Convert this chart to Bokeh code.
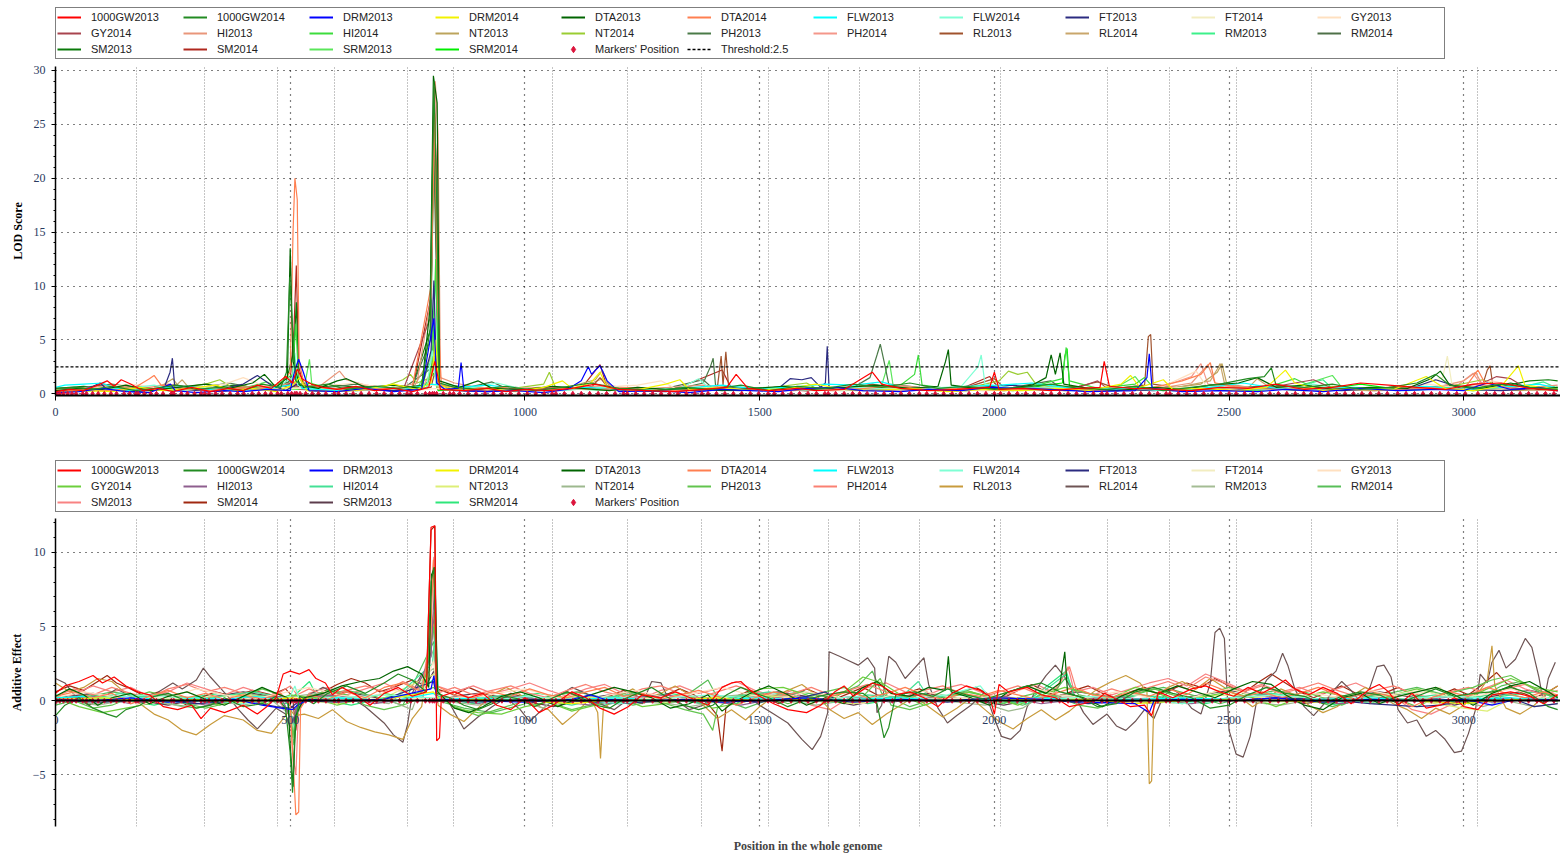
import numpy as np
from bokeh.plotting import figure
from bokeh.models import (Legend, LegendItem, Range1d, SingleIntervalTicker,
                          FixedTicker, Grid, LinearAxis)
from bokeh.layouts import column
from bokeh.embed import file_html
from bokeh.resources import INLINE

# ---------------- shared data ----------------
NAMES = ["1000GW2013", "1000GW2014", "DRM2013", "DRM2014", "DTA2013", "DTA2014",
         "FLW2013", "FLW2014", "FT2013", "FT2014", "GY2013", "GY2014", "HI2013",
         "HI2014", "NT2013", "NT2014", "PH2013", "PH2014", "RL2013", "RL2014",
         "RM2013", "RM2014", "SM2013", "SM2014", "SRM2013", "SRM2014"]

THRESHOLD = 2.5
CHROM_BOUNDS = [172, 317, 473, 594, 749, 848, 1058, 1218, 1377, 1518, 1646, 1713,
                1840, 2013, 2240, 2374, 2515, 2675, 2859, 3030]
MARKERS = [2, 9, 17, 26, 35, 44, 58, 66, 79, 91, 104, 118, 130, 146, 158, 171, 176, 189, 203,
           215, 229, 247, 252, 268, 281, 296, 310, 318, 327, 341, 355, 372, 388, 401, 419, 433,
           447, 459, 473, 481, 495, 503, 510, 514, 521, 533, 547, 560, 576, 594, 603, 619, 634,
           651, 668, 684, 700, 716, 733, 749, 757, 771, 788, 797, 803, 807, 812, 826, 840, 848,
           861, 879, 896, 915, 933, 951, 969, 987, 1005, 1023, 1041, 1058, 1066, 1084, 1102,
           1120, 1138, 1156, 1174, 1192, 1210, 1218, 1236, 1254, 1272, 1290, 1308, 1326, 1344,
           1362, 1377, 1390, 1408, 1426, 1444, 1462, 1480, 1498, 1518, 1531, 1549, 1567, 1585,
           1603, 1621, 1639, 1646, 1662, 1680, 1698, 1713, 1729, 1747, 1765, 1783, 1801, 1819,
           1840, 1856, 1874, 1892, 1910, 1928, 1946, 1964, 1982, 2000, 2013, 2031, 2049, 2067,
           2085, 2103, 2121, 2139, 2157, 2175, 2193, 2211, 2229, 2240, 2258, 2276, 2294, 2312,
           2330, 2348, 2366, 2374, 2392, 2410, 2428, 2446, 2464, 2482, 2500, 2515, 2533, 2551,
           2569, 2587, 2605, 2623, 2641, 2659, 2675, 2693, 2711, 2729, 2747, 2765, 2783, 2801,
           2819, 2837, 2859, 2877, 2895, 2913, 2931, 2949, 2967, 2985, 3003, 3030, 3048, 3066,
           3084, 3102, 3120, 3138, 3156, 3174, 3192]

# ---------------- LOD score series (position, LOD) ----------------
lod_1000gw2013 = [(0,0.2),(30,0.4),(60,0.3),(90,0.8),(110,1.2),(125,0.7),(140,1.3),(160,0.9),(185,0.3),(220,0.5),(250,0.2),(290,0.6),(330,0.2),(370,0.5),(400,0.3),(430,0.8),(460,0.5),(490,1.6),(505,1.0),(515,2.3),(525,1.4),(545,0.9),(570,0.6),(600,0.4),(640,0.7),(680,0.3),(720,0.5),(760,0.2),(795,0.6),(808,3.0),(820,0.4),(870,0.3),(920,0.5),(960,0.2),(1000,0.4),(1050,0.3),(1100,0.5),(1150,0.9),(1200,0.4),(1260,0.3),(1320,0.2),(1380,0.4),(1430,0.6),(1450,1.8),(1475,0.5),(1520,0.3),(1580,0.5),(1620,0.3),(1680,0.4),(1725,1.6),(1740,2.0),(1760,0.9),(1800,0.5),(1860,0.3),(1920,0.4),(1990,0.6),(2000,2.0),(2010,0.4),(2060,0.5),(2120,0.3),(2180,0.5),(2225,0.6),(2234,3.0),(2245,0.7),(2290,0.5),(2360,0.4),(2420,0.3),(2480,0.6),(2540,0.5),(2600,0.9),(2660,0.4),(2720,0.6),(2780,1.0),(2840,0.8),(2900,0.6),(2960,0.4),(3020,0.9),(3080,1.0),(3140,0.5),(3200,0.3)]
lod_1000gw2014 = [(0,0.5),(40,0.6),(80,0.4),(120,0.7),(170,0.3),(210,0.5),(260,0.8),(300,0.4),(350,0.6),(400,0.3),(440,0.9),(480,0.6),(492,2.0),(499,10.8),(505,6.0),(512,1.2),(530,0.6),(580,0.9),(620,0.4),(680,0.7),(730,0.5),(780,0.8),(798,6.0),(806,29.0),(812,18.0),(818,1.0),(850,0.6),(900,0.4),(960,0.7),(1020,0.3),(1080,0.6),(1140,1.0),(1200,0.5),(1280,0.3),(1340,0.6),(1400,0.4),(1460,0.8),(1520,0.3),(1580,0.7),(1640,0.5),(1700,0.9),(1760,0.6),(1820,1.0),(1880,0.5),(1940,0.7),(2000,0.4),(2060,0.6),(2120,0.9),(2180,0.5),(2240,0.4),(2300,0.7),(2360,0.3),(2420,0.6),(2480,0.9),(2540,1.4),(2575,1.6),(2590,2.4),(2600,0.8),(2660,0.6),(2720,0.9),(2780,0.4),(2840,0.6),(2900,1.0),(2940,1.8),(2970,0.8),(3020,0.5),(3080,0.9),(3140,0.6),(3200,0.4)]
lod_drm2013 = [(0,0.1),(50,0.2),(100,0.5),(150,0.2),(200,0.1),(245,0.9),(255,0.3),(300,0.1),(360,0.3),(400,0.2),(450,0.4),(500,0.3),(510,2.2),(518,3.2),(528,2.0),(540,0.3),(600,0.2),(660,0.5),(720,0.2),(780,0.4),(800,5.5),(806,7.0),(812,1.0),(830,0.4),(858,0.5),(864,2.9),(870,0.3),(920,0.2),(980,0.3),(1040,0.1),(1090,0.4),(1120,1.2),(1135,2.5),(1142,1.8),(1150,2.2),(1160,2.6),(1175,1.2),(1200,0.2),(1280,0.3),(1350,0.1),(1420,0.4),(1480,0.3),(1540,0.2),(1600,0.5),(1660,0.6),(1720,0.3),(1800,0.2),(1860,0.4),(1930,0.3),(1990,0.6),(2060,0.5),(2120,0.4),(2200,0.2),(2300,0.3),(2325,1.5),(2330,3.7),(2336,0.5),(2400,0.2),(2480,0.3),(2560,0.2),(2620,0.4),(2700,0.2),(2780,0.5),(2860,0.3),(2940,0.4),(3000,0.3),(3050,1.0),(3100,0.4),(3160,0.6),(3200,0.3)]
lod_drm2014 = [(0,0.1),(60,0.3),(120,0.2),(180,0.6),(230,0.3),(290,0.5),(340,0.8),(380,0.3),(420,0.5),(470,0.2),(505,0.8),(520,1.5),(535,0.3),(600,0.2),(660,0.4),(720,0.9),(770,0.4),(800,1.0),(810,5.0),(816,0.8),(860,0.3),(920,0.5),(980,0.2),(1040,0.6),(1080,1.2),(1100,0.5),(1140,1.0),(1160,2.0),(1175,0.6),(1230,0.3),(1300,0.9),(1330,1.3),(1350,0.4),(1420,0.6),(1480,0.3),(1560,0.5),(1620,0.9),(1680,0.4),(1740,0.3),(1820,0.5),(1900,0.2),(1980,0.4),(2060,0.3),(2130,0.5),(2200,0.3),(2270,0.9),(2290,1.7),(2310,0.6),(2360,1.3),(2380,0.4),(2440,0.5),(2520,0.3),(2580,0.6),(2620,2.2),(2640,1.0),(2700,0.3),(2780,0.5),(2850,0.4),(2920,1.6),(2960,0.5),(3020,0.3),(3080,0.7),(3116,2.6),(3130,0.8),(3200,0.4)]
lod_dta2013 = [(0,0.3),(50,0.5),(100,0.4),(150,0.8),(200,0.3),(260,0.6),(320,0.9),(370,0.5),(420,1.0),(445,1.8),(470,0.6),(494,1.5),(500,13.5),(506,3.0),(520,0.8),(560,0.5),(600,1.2),(620,1.4),(660,0.6),(720,0.8),(780,0.5),(798,8.0),(805,29.5),(813,27.0),(818,1.2),(860,0.6),(900,1.2),(930,0.5),(1000,0.4),(1060,0.7),(1120,0.5),(1180,0.3),(1240,0.6),(1300,0.4),(1360,0.5),(1420,0.3),(1490,0.5),(1550,0.7),(1610,0.4),(1680,0.6),(1750,0.8),(1820,0.5),(1880,0.7),(1896,3.0),(1902,4.1),(1908,0.8),(1960,0.5),(2020,0.4),(2080,0.8),(2110,1.5),(2121,3.6),(2130,1.8),(2140,3.8),(2148,0.9),(2200,0.5),(2260,0.3),(2340,0.6),(2400,0.4),(2460,0.8),(2520,1.0),(2560,1.5),(2600,0.6),(2660,0.8),(2720,0.4),(2800,0.6),(2880,0.5),(2930,1.4),(2950,2.1),(2970,0.8),(3040,0.5),(3100,1.0),(3160,0.4),(3200,0.6)]
lod_dta2014 = [(0,0.2),(60,0.4),(120,0.3),(170,0.6),(200,1.4),(210,1.7),(225,0.8),(270,0.5),(330,0.3),(380,0.6),(430,0.4),(480,0.9),(500,2.0),(506,15.0),(510,20.0),(515,18.0),(519,3.0),(530,0.8),(580,0.5),(630,0.3),(700,0.5),(760,0.6),(800,10.0),(808,26.0),(814,8.0),(822,0.8),(880,0.4),(950,0.6),(1020,0.3),(1090,0.5),(1160,0.4),(1240,0.6),(1320,0.3),(1400,0.5),(1460,0.4),(1540,0.3),(1620,0.5),(1700,0.4),(1780,0.7),(1860,0.4),(1940,0.5),(2020,0.3),(2100,0.5),(2180,0.4),(2260,0.3),(2340,0.6),(2400,1.2),(2440,1.8),(2460,2.9),(2470,1.0),(2520,0.6),(2600,0.4),(2680,0.5),(2760,0.4),(2840,0.6),(2920,0.5),(3000,0.4),(3030,2.2),(3045,1.0),(3100,0.5),(3200,0.4)]
lod_flw2013 = [(0,0.6),(20,0.8),(60,0.9),(100,1.0),(120,0.6),(160,0.3),(220,0.5),(280,0.7),(330,0.4),(390,0.3),(450,0.5),(500,0.8),(512,1.6),(525,0.5),(600,0.3),(680,0.6),(740,0.4),(800,0.9),(860,0.6),(920,0.8),(980,0.5),(1050,0.3),(1120,0.6),(1200,0.4),(1280,0.3),(1360,0.6),(1420,0.8),(1480,0.5),(1560,0.6),(1640,0.9),(1700,0.8),(1760,1.1),(1800,0.6),(1870,0.4),(1940,0.7),(2010,0.8),(2080,1.0),(2150,0.6),(2220,0.4),(2300,0.5),(2380,0.3),(2460,0.6),(2530,1.0),(2600,0.5),(2680,0.4),(2760,0.6),(2840,0.5),(2920,0.7),(3000,0.4),(3080,0.6),(3160,0.9),(3200,0.5)]
lod_flw2014 = [(0,0.3),(70,0.5),(140,0.4),(210,0.8),(260,0.3),(330,0.5),(400,0.2),(470,0.6),(505,1.5),(510,3.8),(516,0.8),(560,0.4),(640,0.3),(720,0.6),(790,0.5),(803,4.0),(810,1.0),(880,0.5),(940,1.0),(1000,0.4),(1080,0.3),(1160,0.6),(1240,0.4),(1330,0.5),(1370,1.4),(1390,0.6),(1460,0.4),(1540,0.5),(1620,0.3),(1700,0.6),(1780,0.4),(1860,0.5),(1930,0.7),(1965,2.5),(1972,3.6),(1980,0.9),(2040,0.5),(2120,0.6),(2200,0.4),(2280,0.5),(2360,0.3),(2440,0.7),(2520,0.5),(2600,0.4),(2680,0.9),(2720,0.5),(2800,0.4),(2880,0.6),(2960,0.4),(3040,0.5),(3120,0.8),(3200,0.4)]
lod_ft2013 = [(0,0.2),(50,0.3),(80,0.7),(95,1.0),(110,0.4),(170,0.2),(230,0.4),(244,2.0),(249,3.3),(254,0.6),(300,0.3),(360,0.5),(400,0.9),(430,1.7),(460,0.8),(490,0.3),(515,0.9),(540,0.3),(600,0.2),(660,0.4),(720,0.3),(780,0.5),(800,4.0),(806,10.5),(812,1.0),(850,0.3),(920,0.2),(990,0.4),(1060,0.3),(1140,0.6),(1220,0.3),(1300,0.2),(1380,0.4),(1460,0.3),(1540,0.5),(1565,1.4),(1590,1.3),(1610,1.5),(1630,0.6),(1640,1.0),(1644,4.4),(1648,0.5),(1720,0.3),(1800,0.4),(1880,0.3),(1960,0.5),(2040,0.8),(2100,0.5),(2180,0.3),(2260,0.4),(2340,0.3),(2420,0.5),(2500,0.3),(2580,0.5),(2660,0.4),(2740,0.3),(2820,0.5),(2900,0.7),(2940,1.3),(2970,0.9),(3000,0.4),(3080,0.3),(3160,0.5),(3200,0.3)]
lod_ft2014 = [(0,0.2),(100,0.4),(200,0.3),(300,0.6),(400,0.3),(500,0.5),(600,0.4),(700,0.3),(800,0.8),(900,0.4),(1000,0.3),(1100,0.5),(1200,0.3),(1300,0.4),(1400,0.6),(1500,0.3),(1600,0.4),(1700,0.3),(1800,0.5),(1900,0.4),(2000,0.3),(2100,0.5),(2200,0.4),(2300,0.3),(2400,0.6),(2500,0.4),(2600,0.5),(2700,0.3),(2800,0.4),(2900,0.6),(2955,1.5),(2965,3.5),(2975,0.8),(3050,0.4),(3120,0.5),(3200,0.3)]
lod_gy2013 = [(0,0.3),(80,0.5),(160,0.9),(210,0.6),(280,0.4),(360,0.9),(400,1.5),(440,0.8),(500,0.5),(560,0.7),(640,1.0),(700,0.5),(760,0.3),(840,0.6),(920,0.4),(1000,0.5),(1080,0.3),(1160,0.6),(1240,0.8),(1290,1.2),(1320,0.5),(1400,0.4),(1480,0.3),(1560,0.5),(1640,0.4),(1720,0.6),(1800,0.3),(1880,0.5),(1960,0.4),(2040,0.3),(2120,0.6),(2200,0.5),(2280,0.4),(2360,0.7),(2400,1.5),(2430,2.1),(2450,0.8),(2520,0.4),(2600,0.5),(2680,0.3),(2760,0.6),(2840,0.4),(2920,0.9),(3000,0.5),(3060,1.2),(3120,0.6),(3200,0.4)]
lod_gy2014 = [(0,0.2),(70,0.4),(140,0.3),(210,0.6),(280,0.4),(350,0.2),(420,0.5),(480,0.3),(505,1.2),(520,0.4),(580,0.3),(660,0.5),(740,0.3),(798,7.0),(806,27.5),(812,20.0),(818,0.8),(880,0.4),(960,0.3),(1040,0.5),(1120,0.6),(1200,0.3),(1280,0.4),(1360,0.3),(1440,0.5),(1520,0.4),(1600,0.3),(1680,0.5),(1760,0.7),(1840,0.4),(1920,0.3),(2000,0.5),(2080,0.4),(2160,0.3),(2220,1.2),(2240,0.5),(2320,0.4),(2400,0.3),(2480,0.6),(2560,0.4),(2640,1.0),(2680,1.3),(2720,0.5),(2800,0.4),(2880,0.5),(2960,0.4),(3040,1.0),(3070,1.6),(3100,1.4),(3130,0.6),(3200,0.4)]
lod_hi2013 = [(0,0.3),(60,0.5),(120,0.8),(180,0.5),(240,0.9),(290,0.4),(350,0.6),(410,0.4),(470,0.8),(510,1.0),(560,0.6),(590,1.6),(605,2.1),(620,1.3),(660,0.8),(720,0.5),(770,1.0),(800,9.0),(809,29.0),(815,24.0),(820,1.5),(850,1.0),(900,0.6),(960,0.4),(1030,0.6),(1100,0.5),(1170,0.8),(1240,0.4),(1310,0.6),(1380,0.8),(1440,0.5),(1510,0.4),(1580,0.6),(1650,0.3),(1720,0.5),(1790,0.8),(1860,0.5),(1930,0.4),(2000,0.6),(2070,0.5),(2140,0.4),(2210,0.6),(2280,0.4),(2350,0.5),(2420,1.0),(2455,2.7),(2470,1.0),(2540,0.6),(2620,0.4),(2700,0.6),(2780,0.5),(2860,0.4),(2940,0.6),(3000,1.2),(3025,2.0),(3040,0.8),(3120,0.5),(3200,0.8)]
lod_hi2014 = [(0,0.2),(80,0.3),(160,0.5),(240,0.3),(320,0.6),(400,0.4),(470,0.8),(505,1.8),(512,6.5),(518,1.0),(560,0.4),(640,0.3),(720,0.6),(790,0.5),(803,3.0),(810,12.5),(816,1.0),(870,0.4),(950,0.6),(1030,0.3),(1110,0.5),(1190,0.4),(1270,0.3),(1350,0.5),(1430,0.4),(1510,0.3),(1590,0.6),(1670,0.4),(1750,0.5),(1800,0.8),(1830,1.8),(1838,3.6),(1846,0.8),(1900,0.5),(1980,0.4),(2060,0.6),(2100,0.9),(2145,1.4),(2153,4.3),(2160,1.2),(2220,0.5),(2300,0.9),(2320,1.5),(2340,0.5),(2420,0.4),(2500,0.5),(2580,0.6),(2640,1.4),(2680,0.6),(2760,0.5),(2840,0.4),(2920,0.6),(3000,0.5),(3080,0.7),(3160,0.4),(3200,0.6)]
lod_nt2013 = [(0,0.3),(70,0.6),(140,0.4),(210,0.3),(250,1.4),(265,0.5),(330,0.4),(400,0.7),(460,0.5),(520,0.9),(580,0.4),(650,0.3),(720,0.6),(790,0.4),(808,3.5),(815,0.5),(880,0.3),(950,0.5),(1020,0.4),(1090,0.6),(1150,1.3),(1165,2.2),(1180,0.6),(1250,0.4),(1330,0.3),(1410,0.5),(1490,0.4),(1570,0.3),(1650,0.5),(1730,0.4),(1810,0.3),(1890,0.5),(1970,0.4),(2050,0.3),(2130,0.5),(2210,0.4),(2290,0.3),(2370,0.5),(2440,0.9),(2475,2.0),(2485,2.8),(2495,0.9),(2560,0.5),(2640,0.6),(2720,0.4),(2800,0.3),(2880,0.5),(2960,0.4),(3040,0.5),(3120,0.3),(3200,0.5)]
lod_nt2014 = [(0,0.4),(80,0.3),(160,0.6),(240,0.4),(320,0.9),(350,1.3),(380,0.5),(450,0.4),(530,0.6),(610,0.4),(690,0.5),(740,1.3),(756,1.8),(770,1.0),(800,1.5),(807,6.0),(813,0.6),(880,0.5),(960,0.4),(1040,0.9),(1052,2.0),(1065,0.6),(1130,0.5),(1210,0.4),(1290,0.3),(1370,0.5),(1450,0.4),(1530,0.6),(1600,1.0),(1620,0.5),(1700,0.4),(1780,0.6),(1860,0.4),(1940,0.5),(2010,1.2),(2030,2.1),(2050,1.8),(2070,2.0),(2090,0.8),(2160,0.5),(2240,0.4),(2320,0.5),(2400,0.4),(2480,0.6),(2560,0.4),(2640,0.5),(2720,0.7),(2800,0.4),(2880,0.5),(2960,0.6),(3040,1.3),(3080,0.7),(3160,0.4),(3200,0.5)]
lod_ph2013 = [(0,0.4),(60,0.6),(120,0.9),(180,0.5),(250,0.8),(310,0.6),(370,1.0),(430,0.5),(490,0.7),(506,1.8),(520,0.5),(580,0.6),(640,0.9),(700,0.5),(760,0.7),(799,5.0),(806,22.0),(812,10.0),(818,0.9),(880,0.6),(930,1.1),(960,0.5),(1040,0.4),(1120,0.6),(1200,0.5),(1280,0.4),(1340,0.6),(1380,1.0),(1395,2.5),(1401,3.3),(1406,0.8),(1460,0.5),(1540,0.6),(1620,0.4),(1700,0.6),(1735,1.5),(1750,3.6),(1757,4.6),(1765,3.0),(1775,0.9),(1840,0.6),(1920,0.5),(2000,0.7),(2080,0.4),(2160,0.6),(2240,0.4),(2320,0.5),(2400,0.6),(2480,0.4),(2560,0.7),(2640,0.5),(2720,0.6),(2800,0.4),(2880,0.5),(2960,0.7),(3040,0.5),(3120,0.4),(3200,0.6)]
lod_ph2014 = [(0,0.2),(90,0.4),(180,0.6),(270,0.3),(360,0.5),(450,0.4),(500,1.0),(515,2.0),(530,0.5),(600,0.3),(690,0.6),(780,0.4),(805,2.5),(815,0.5),(900,0.3),(990,0.5),(1080,0.4),(1170,0.7),(1260,0.4),(1350,0.3),(1440,0.6),(1530,0.4),(1620,0.5),(1710,0.3),(1800,0.6),(1890,0.4),(1980,0.3),(2070,0.5),(2160,0.4),(2250,0.6),(2340,0.4),(2420,1.6),(2440,2.8),(2455,0.9),(2540,0.5),(2630,0.4),(2720,0.6),(2810,0.4),(2900,0.5),(2990,0.9),(3020,1.9),(3040,0.7),(3120,0.5),(3200,0.4)]
lod_rl2013 = [(0,0.3),(80,0.5),(160,0.4),(240,0.7),(320,0.4),(400,0.5),(470,0.3),(520,0.8),(560,0.4),(640,0.6),(720,0.3),(800,0.6),(808,2.0),(820,0.5),(900,0.4),(980,0.6),(1060,0.3),(1140,0.5),(1160,1.5),(1180,0.4),(1260,0.3),(1340,0.5),(1410,0.6),(1418,3.5),(1422,0.8),(1428,3.9),(1434,0.6),(1500,0.4),(1580,0.5),(1660,0.3),(1740,0.9),(1780,0.5),(1860,0.4),(1940,0.6),(2000,1.4),(2020,0.6),(2100,0.4),(2180,0.7),(2220,1.1),(2260,0.5),(2320,0.8),(2328,5.3),(2333,5.5),(2338,0.9),(2400,0.5),(2480,0.4),(2560,0.6),(2640,0.4),(2720,0.5),(2800,0.4),(2880,0.6),(2960,0.5),(3040,0.8),(3050,2.2),(3056,2.6),(3062,0.7),(3120,0.5),(3200,0.4)]
lod_rl2014 = [(0,0.2),(90,0.4),(180,0.3),(260,0.9),(270,1.3),(285,0.5),(360,0.4),(440,0.7),(520,0.5),(600,0.3),(680,0.5),(760,0.4),(808,4.0),(815,0.4),(880,0.3),(960,0.5),(1040,0.4),(1120,0.6),(1165,1.4),(1190,0.5),(1270,0.3),(1350,0.5),(1430,0.4),(1510,0.3),(1590,0.5),(1670,0.4),(1750,0.6),(1830,0.4),(1910,0.3),(1990,0.5),(2070,0.4),(2150,0.3),(2230,0.5),(2310,0.4),(2390,0.6),(2460,1.2),(2475,2.3),(2481,2.8),(2490,1.0),(2540,0.5),(2560,1.4),(2580,0.8),(2660,0.4),(2740,0.5),(2820,0.3),(2900,0.5),(2980,0.4),(3060,0.6),(3140,0.4),(3200,0.3)]
lod_rm2013 = [(0,0.3),(80,0.4),(160,0.3),(240,0.6),(320,0.4),(400,0.3),(480,0.5),(510,1.5),(530,0.4),(610,0.3),(690,0.5),(770,0.4),(800,3.0),(810,11.0),(816,0.6),(880,0.4),(960,0.3),(1040,0.5),(1120,0.4),(1200,0.3),(1280,0.5),(1360,0.4),(1440,0.3),(1520,0.5),(1600,0.4),(1680,0.3),(1760,0.5),(1840,0.4),(1920,0.3),(2000,0.5),(2080,0.4),(2160,0.3),(2240,0.5),(2320,0.4),(2400,0.3),(2480,0.5),(2560,0.4),(2640,0.6),(2700,1.3),(2720,0.5),(2800,0.4),(2880,0.3),(2960,0.5),(3040,0.4),(3120,0.6),(3170,1.1),(3200,0.5)]
lod_rm2014 = [(0,0.2),(90,0.5),(180,0.7),(260,0.4),(340,0.6),(420,0.3),(500,0.6),(580,0.4),(660,0.7),(740,0.5),(805,2.5),(815,0.4),(900,0.3),(980,0.5),(1060,0.4),(1140,0.6),(1220,0.3),(1300,0.5),(1380,1.3),(1400,0.5),(1480,0.4),(1560,0.6),(1640,0.4),(1720,0.5),(1800,0.3),(1880,0.5),(1960,0.4),(2040,0.6),(2120,1.2),(2140,0.6),(2220,0.4),(2300,0.5),(2380,0.3),(2460,0.5),(2540,0.4),(2620,0.6),(2700,0.4),(2780,0.5),(2860,0.3),(2940,0.6),(3020,0.4),(3100,0.5),(3200,0.4)]
lod_sm2013 = [(0,0.5),(60,0.7),(120,0.4),(180,0.6),(250,0.3),(320,0.5),(380,0.8),(440,0.5),(490,0.9),(508,4.0),(513,8.5),(518,1.5),(540,0.5),(600,0.8),(680,0.4),(760,0.6),(799,6.0),(806,25.0),(812,12.0),(818,0.6),(900,0.5),(980,0.3),(1060,0.6),(1140,0.4),(1220,0.3),(1300,0.5),(1380,0.4),(1460,0.6),(1540,0.3),(1620,0.5),(1700,0.4),(1780,0.6),(1860,0.4),(1940,0.3),(2020,0.5),(2100,0.4),(2180,0.6),(2260,0.3),(2340,0.5),(2420,0.4),(2500,0.6),(2580,0.5),(2660,0.3),(2740,0.5),(2820,0.4),(2900,0.6),(2980,0.4),(3060,0.5),(3140,1.2),(3180,1.3),(3200,1.2)]
lod_sm2014 = [(0,0.2),(70,0.4),(140,0.6),(210,0.4),(280,0.3),(350,0.5),(420,0.7),(470,0.4),(500,1.2),(508,6.0),(513,11.9),(518,2.5),(530,0.6),(600,0.4),(680,0.6),(760,0.3),(800,9.0),(807,28.5),(813,15.0),(818,0.7),(880,0.4),(960,0.6),(1040,0.3),(1120,0.5),(1160,2.7),(1175,0.6),(1250,0.4),(1330,0.6),(1420,2.2),(1440,0.5),(1520,0.4),(1600,0.3),(1680,0.5),(1760,0.6),(1840,0.4),(1920,0.3),(1990,1.6),(2010,0.5),(2090,0.4),(2170,0.6),(2250,0.4),(2330,0.5),(2410,0.3),(2490,0.5),(2570,0.4),(2650,0.6),(2730,0.4),(2810,0.3),(2890,0.5),(2970,0.4),(3050,0.6),(3130,0.4),(3200,0.3)]
lod_srm2013 = [(0,0.3),(80,0.5),(160,0.3),(240,0.6),(320,0.4),(400,0.5),(450,1.1),(480,0.5),(515,1.2),(530,0.6),(541,3.2),(547,0.4),(620,0.3),(700,0.5),(780,0.4),(805,4.5),(812,0.5),(880,0.4),(960,0.6),(1040,0.3),(1120,0.5),(1200,0.4),(1280,0.3),(1360,0.5),(1440,0.4),(1520,0.6),(1600,0.3),(1680,0.5),(1760,0.8),(1776,3.1),(1785,0.6),(1860,0.4),(1940,0.5),(2020,0.3),(2100,0.5),(2180,0.4),(2260,0.6),(2300,1.6),(2320,0.5),(2400,0.4),(2480,0.5),(2560,0.3),(2640,0.6),(2720,1.7),(2740,0.6),(2820,0.4),(2900,0.5),(2980,0.4),(3060,0.6),(3140,0.4),(3200,0.5)]
lod_srm2014 = [(0,0.2),(90,0.4),(180,0.3),(270,0.5),(360,0.3),(450,0.6),(520,0.4),(541,1.0),(600,0.3),(690,0.5),(780,0.4),(808,2.0),(815,0.3),(900,0.5),(990,0.3),(1080,0.6),(1170,0.4),(1260,0.3),(1350,0.5),(1440,0.4),(1530,0.3),(1620,0.5),(1710,0.4),(1800,0.6),(1880,0.4),(1960,0.5),(2040,0.3),(2110,0.8),(2145,1.0),(2150,3.5),(2155,4.2),(2160,0.7),(2230,0.4),(2300,0.6),(2380,0.4),(2460,0.5),(2540,0.3),(2620,0.6),(2700,0.4),(2780,0.9),(2860,0.4),(2940,0.5),(3020,0.3),(3100,0.6),(3200,0.4)]

# ---------------- Additive effect series (position, effect) ----------------
add_1000gw2013 = [(0,0.5),(20,1.0),(50,1.3),(80,1.7),(100,1.2),(125,1.6),(150,1.0),(175,0.6),(200,0.4),(230,-0.4),(260,-0.6),(290,-0.3),(310,-1.2),(330,-0.5),(360,-0.8),(400,-0.3),(430,-0.9),(450,-0.4),(470,0.2),(485,1.8),(500,2.0),(520,1.8),(540,2.1),(555,1.5),(575,1.2),(590,0.4),(610,0.9),(640,0.4),(670,-0.3),(700,0.5),(730,0.9),(760,0.3),(790,0.6),(800,11.7),(808,11.8),(812,-2.7),(818,-2.5),(822,0.3),(850,0.6),(880,0.2),(910,0.5),(940,-0.3),(970,-0.6),(1000,0.2),(1030,-0.8),(1060,-0.3),(1100,0.6),(1130,0.2),(1160,-0.5),(1190,-0.9),(1220,-0.4),(1250,0.4),(1290,0.2),(1320,0.6),(1360,0.1),(1390,-0.3),(1420,0.9),(1440,1.2),(1460,1.3),(1480,0.7),(1500,0.3),(1530,-0.2),(1560,-0.6),(1600,-0.8),(1630,-0.3),(1660,0.6),(1680,1.0),(1700,0.3),(1740,1.2),(1760,1.0),(1790,0.4),(1820,0.6),(1850,0.2),(1880,-0.4),(1910,0.5),(1940,1.0),(1970,0.7),(1990,0.3),(2000,-0.9),(2010,1.1),(2030,0.6),(2070,0.9),(2100,0.4),(2130,0.2),(2160,-0.4),(2190,-0.2),(2220,0.1),(2235,0.5),(2260,0.1),(2290,-0.4),(2320,-0.3),(2335,-1.0),(2350,0.6),(2380,0.2),(2420,0.8),(2450,1.0),(2480,0.6),(2510,0.3),(2540,0.9),(2570,0.5),(2600,1.0),(2620,1.4),(2640,0.8),(2670,0.4),(2700,0.9),(2730,0.5),(2760,-0.2),(2800,0.8),(2820,1.1),(2840,0.6),(2860,-0.3),(2890,0.5),(2920,-0.5),(2950,-0.3),(2980,0.2),(3000,-0.4),(3030,-0.6),(3060,0.4),(3100,0.6),(3140,0.3),(3170,-0.2),(3200,0.4)]
add_1000gw2014 = [(0,-1.0),(20,-0.3),(50,0.2),(80,-0.5),(110,-0.9),(130,-1.1),(150,-0.6),(180,-0.3),(210,0.3),(240,0.5),(270,0.1),(300,-0.5),(330,-0.3),(360,0.2),(400,-0.4),(440,-0.2),(470,0.3),(490,-0.5),(500,-3.5),(505,-6.2),(510,-2.0),(520,0.3),(550,-0.2),(580,0.5),(620,1.0),(660,0.5),(700,1.2),(730,1.8),(760,1.4),(790,0.6),(800,8.0),(806,9.0),(812,0.5),(840,0.2),(870,-0.3),(900,-0.6),(930,-0.2),(960,0.3),(990,0.1),(1020,-0.4),(1060,0.2),(1090,0.6),(1120,0.2),(1150,-0.3),(1180,-0.5),(1210,0.1),(1240,0.5),(1270,0.9),(1300,0.3),(1330,-0.2),(1370,-0.6),(1400,-0.3),(1430,0.4),(1460,0.9),(1490,0.5),(1520,0.2),(1560,-0.4),(1600,0.1),(1640,0.4),(1680,0.6),(1720,0.5),(1750,-0.2),(1765,-2.5),(1775,-1.8),(1790,0.4),(1830,0.6),(1870,0.3),(1900,0.8),(1940,0.4),(1980,0.1),(2020,0.5),(2060,0.9),(2100,1.2),(2140,0.6),(2180,0.3),(2220,-0.4),(2260,-0.2),(2300,0.6),(2340,0.9),(2380,0.5),(2420,0.2),(2460,-0.5),(2500,-0.3),(2540,0.4),(2580,0.9),(2620,0.5),(2660,0.3),(2700,-0.2),(2740,0.3),(2780,0.6),(2820,0.4),(2860,-0.2),(2900,0.3),(2940,0.8),(2980,0.3),(3020,0.5),(3060,0.6),(3100,0.9),(3140,0.5),(3180,-0.4),(3200,-0.6)]
add_drm2013 = [(0,0.1),(80,0.0),(160,0.2),(240,-0.1),(300,0.0),(380,0.1),(440,-0.3),(480,-0.5),(505,-0.6),(515,-0.3),(540,0.1),(600,0.0),(700,0.1),(800,0.8),(806,1.7),(812,0.1),(900,0.0),(1000,-0.1),(1100,0.1),(1140,0.4),(1170,0.1),(1260,0.0),(1340,0.1),(1420,-0.1),(1500,0.0),(1600,0.2),(1700,-0.1),(1800,0.1),(1900,0.0),(2000,0.2),(2100,0.1),(2200,-0.1),(2300,-0.2),(2330,-0.8),(2340,0.0),(2400,0.1),(2500,0.0),(2600,0.2),(2700,-0.1),(2800,0.1),(2900,0.0),(3000,0.1),(3060,-0.3),(3100,0.0),(3200,0.1)]
add_drm2014 = [(0,0.1),(100,0.2),(200,0.0),(300,0.1),(400,-0.1),(500,0.2),(600,0.0),(700,0.1),(805,0.6),(820,0.0),(900,0.1),(1000,0.0),(1100,-0.2),(1200,0.1),(1300,0.0),(1400,0.2),(1500,0.0),(1600,0.1),(1700,-0.1),(1800,0.1),(1900,0.0),(2000,0.2),(2100,0.0),(2200,0.1),(2300,-0.2),(2400,0.0),(2500,0.1),(2600,0.0),(2700,-0.1),(2800,0.1),(2900,0.0),(3000,-0.2),(3100,0.1),(3200,0.0)]
add_dta2013 = [(0,0.3),(30,0.8),(60,0.4),(90,-0.3),(120,0.2),(160,0.5),(200,-0.2),(240,0.3),(280,0.6),(320,0.1),(360,-0.3),(400,0.3),(440,0.9),(470,0.5),(495,0.2),(500,-3.0),(506,-5.8),(512,-1.0),(530,0.2),(570,0.5),(610,1.0),(650,1.3),(690,1.5),(720,2.0),(750,2.3),(780,1.8),(795,0.9),(801,8.5),(808,9.0),(814,0.6),(850,-0.5),(880,-0.8),(910,-0.4),(950,0.3),(990,0.6),(1030,0.2),(1070,-0.4),(1110,0.1),(1150,0.5),(1190,0.9),(1230,0.6),(1270,0.2),(1310,-0.5),(1350,-0.2),(1390,0.4),(1420,-0.7),(1440,-0.2),(1480,0.5),(1520,1.0),(1560,0.4),(1600,-0.3),(1640,0.2),(1680,-0.2),(1720,0.9),(1750,1.3),(1780,0.5),(1820,0.3),(1860,0.9),(1895,0.7),(1902,3.0),(1908,0.6),(1950,0.2),(1990,-0.3),(2030,0.6),(2070,1.0),(2110,0.5),(2140,1.2),(2150,3.3),(2156,0.5),(2190,0.2),(2230,-0.4),(2270,0.3),(2310,0.8),(2350,0.5),(2390,1.0),(2430,0.6),(2470,0.2),(2510,0.8),(2550,1.3),(2590,1.1),(2620,0.4),(2660,-0.3),(2700,-0.6),(2740,0.2),(2780,0.5),(2820,-0.2),(2860,0.3),(2900,0.6),(2940,0.9),(2980,0.4),(3020,-0.3),(3060,0.5),(3100,1.0),(3140,1.3),(3180,0.6),(3200,0.2)]
add_dta2014 = [(0,0.3),(40,0.6),(80,0.2),(120,0.5),(160,-0.2),(200,0.3),(240,0.7),(280,0.2),(320,0.5),(360,0.1),(400,0.4),(440,0.1),(480,0.5),(500,-0.3),(506,-4.0),(512,-7.7),(518,-7.5),(522,-0.5),(540,0.4),(580,0.1),(620,0.6),(660,0.2),(700,0.9),(740,1.2),(780,0.6),(799,4.0),(805,9.5),(812,1.0),(850,0.4),(890,0.2),(930,0.6),(970,0.3),(1010,0.8),(1050,0.4),(1090,0.2),(1130,0.6),(1170,0.9),(1210,0.3),(1250,0.5),(1290,0.1),(1330,0.4),(1370,0.7),(1410,0.3),(1450,-0.3),(1490,0.2),(1530,0.6),(1570,0.3),(1610,-0.2),(1650,0.3),(1690,0.6),(1730,0.2),(1770,0.5),(1810,0.9),(1850,0.4),(1890,0.1),(1930,0.5),(1970,0.3),(2010,0.7),(2050,0.4),(2090,0.1),(2130,0.5),(2170,0.9),(2210,0.4),(2250,0.2),(2290,0.6),(2330,0.3),(2370,0.8),(2410,0.4),(2450,1.2),(2490,0.7),(2530,0.3),(2570,0.6),(2610,0.2),(2650,0.5),(2690,0.9),(2730,0.4),(2770,0.1),(2810,0.5),(2850,0.3),(2890,-0.4),(2930,0.2),(2970,0.6),(3010,0.3),(3050,0.9),(3090,0.5),(3130,0.2),(3170,0.6),(3200,0.4)]
add_flw2013 = [(0,0.2),(60,0.3),(120,0.1),(180,0.2),(240,0.0),(300,0.2),(360,0.1),(420,0.3),(480,0.1),(540,0.0),(600,0.2),(660,0.1),(720,0.0),(805,0.5),(820,0.1),(900,0.2),(1000,0.0),(1100,0.1),(1200,0.2),(1300,0.0),(1400,0.1),(1500,0.2),(1600,0.0),(1700,0.1),(1800,0.2),(1900,0.0),(2000,0.1),(2100,0.2),(2200,0.0),(2300,0.1),(2400,0.2),(2500,0.1),(2600,0.0),(2700,0.1),(2800,0.2),(2900,0.0),(3000,0.1),(3100,0.2),(3200,0.0)]
add_flw2014 = [(0,-0.1),(100,0.2),(200,0.4),(300,0.1),(400,-0.2),(500,0.3),(510,1.0),(520,0.0),(600,0.2),(700,0.4),(800,0.2),(900,-0.1),(1000,0.3),(1100,0.1),(1200,-0.2),(1300,0.2),(1400,0.4),(1500,0.1),(1600,-0.1),(1700,0.3),(1800,0.1),(1900,0.4),(1970,1.0),(1990,0.2),(2100,0.0),(2200,0.3),(2300,0.1),(2400,-0.2),(2500,0.2),(2600,0.4),(2700,0.1),(2800,-0.1),(2900,0.2),(3000,0.3),(3100,0.0),(3200,0.2)]
add_ft2013 = [(0,0.0),(100,-0.1),(200,0.1),(300,-0.2),(400,0.0),(470,-0.4),(500,-0.5),(520,0.0),(600,-0.1),(700,0.1),(805,1.3),(815,0.0),(900,-0.1),(1000,0.1),(1100,0.0),(1200,-0.2),(1300,0.0),(1400,0.1),(1500,-0.1),(1600,0.3),(1640,0.6),(1660,0.1),(1700,0.0),(1800,0.1),(1900,-0.1),(2000,0.2),(2100,0.1),(2200,-0.2),(2300,0.0),(2400,0.1),(2500,0.0),(2600,0.2),(2700,0.1),(2800,-0.2),(2900,-0.4),(2950,-0.3),(3000,0.0),(3100,0.2),(3150,-0.4),(3200,-0.2)]
add_ft2014 = [(0,0.0),(200,0.2),(400,0.1),(600,-0.1),(800,0.2),(1000,0.0),(1200,0.2),(1400,0.1),(1600,-0.1),(1800,0.1),(2000,0.2),(2200,0.0),(2400,0.1),(2600,-0.1),(2800,0.2),(2950,0.9),(2970,0.1),(3100,0.0),(3200,0.1)]
add_gy2013 = [(0,0.2),(60,0.6),(120,0.3),(180,-0.3),(240,0.2),(300,0.8),(360,0.4),(420,0.1),(480,0.5),(540,0.9),(600,0.4),(660,0.2),(720,0.7),(780,0.3),(805,2.7),(815,0.4),(880,0.1),(940,0.5),(1000,0.8),(1060,0.3),(1120,-0.2),(1180,0.4),(1240,0.7),(1300,0.2),(1360,0.5),(1420,0.9),(1480,0.4),(1540,0.1),(1600,0.6),(1660,0.3),(1720,-0.2),(1780,0.4),(1840,0.7),(1900,0.3),(1960,0.1),(2020,0.5),(2080,0.9),(2140,0.4),(2200,0.2),(2260,0.6),(2320,0.3),(2380,-0.2),(2440,0.4),(2500,0.8),(2560,0.3),(2620,0.1),(2680,0.5),(2740,0.2),(2800,0.7),(2860,0.3),(2920,0.6),(2980,0.2),(3040,0.4),(3100,0.8),(3160,0.3),(3200,0.1)]
add_gy2014 = [(0,0.2),(50,-0.4),(100,-0.8),(150,-0.5),(200,-0.2),(250,0.3),(300,0.1),(350,-0.3),(400,0.2),(450,-0.2),(500,0.4),(550,0.2),(600,-0.3),(650,0.1),(700,0.5),(750,0.2),(805,0.9),(850,-0.5),(900,-0.8),(950,-0.9),(1000,-0.4),(1050,-0.1),(1100,-0.7),(1150,-0.3),(1200,0.2),(1250,-0.4),(1300,-0.2),(1350,0.3),(1400,-0.5),(1450,-0.2),(1500,0.8),(1550,0.9),(1600,0.4),(1640,-0.2),(1680,0.6),(1720,1.6),(1760,1.2),(1800,0.4),(1850,-0.3),(1900,0.2),(1950,0.6),(2000,0.2),(2050,-0.3),(2100,0.4),(2150,0.9),(2200,0.5),(2250,0.2),(2300,0.9),(2350,0.5),(2400,-0.2),(2450,0.3),(2500,0.6),(2550,0.2),(2600,-0.4),(2650,0.2),(2700,0.6),(2750,0.3),(2800,-0.2),(2850,0.4),(2900,0.8),(2950,0.4),(3000,0.1),(3050,0.8),(3100,1.5),(3150,0.9),(3200,0.6)]
add_hi2013 = [(0,0.1),(80,0.3),(160,-0.2),(240,0.2),(320,-0.3),(400,0.1),(480,0.3),(505,-1.5),(520,0.2),(600,0.4),(680,-0.2),(760,0.2),(800,3.0),(807,7.5),(814,0.4),(900,-0.2),(980,0.3),(1060,0.0),(1140,-0.3),(1220,0.2),(1300,0.4),(1380,0.0),(1460,-0.3),(1540,0.2),(1620,0.0),(1700,0.3),(1780,-0.1),(1860,0.2),(1940,0.0),(2020,0.3),(2100,-0.2),(2180,0.1),(2260,0.3),(2340,0.0),(2420,-0.2),(2500,0.2),(2580,0.4),(2660,0.0),(2740,-0.2),(2820,0.2),(2900,0.0),(2980,0.3),(3060,-0.1),(3140,0.2),(3200,0.0)]
add_hi2014 = [(0,0.3),(70,0.1),(140,0.5),(210,0.2),(280,-0.2),(350,0.3),(420,0.6),(490,0.2),(510,-1.8),(520,0.1),(590,0.3),(660,-0.1),(730,0.4),(803,2.5),(810,4.8),(816,0.3),(890,0.1),(960,0.4),(1030,0.1),(1100,-0.3),(1170,0.2),(1240,0.5),(1310,0.1),(1380,-0.2),(1450,0.3),(1520,0.6),(1590,0.2),(1660,-0.1),(1730,0.4),(1800,0.2),(1838,1.3),(1860,0.2),(1930,0.4),(2000,0.1),(2070,-0.2),(2153,1.8),(2170,0.3),(2240,0.1),(2310,0.4),(2380,0.2),(2450,-0.1),(2520,0.3),(2590,0.5),(2660,0.2),(2730,-0.2),(2800,0.3),(2870,0.1),(2940,0.4),(3010,0.2),(3080,0.5),(3150,0.1),(3200,0.3)]
add_nt2013 = [(0,0.1),(100,0.3),(200,0.0),(300,0.2),(400,0.4),(500,0.1),(600,-0.2),(700,0.2),(808,1.8),(820,0.1),(900,0.2),(1000,0.0),(1100,0.3),(1200,0.1),(1300,-0.1),(1400,0.2),(1500,0.4),(1600,0.1),(1700,-0.2),(1800,0.2),(1900,0.0),(2000,0.3),(2100,0.1),(2200,0.2),(2300,-0.1),(2400,0.2),(2500,0.4),(2600,0.1),(2700,-0.1),(2800,0.2),(2900,0.0),(3000,-0.5),(3050,-0.7),(3100,0.1),(3200,0.2)]
add_nt2014 = [(0,0.2),(80,-0.2),(160,0.1),(240,0.4),(320,0.1),(400,-0.3),(480,0.2),(560,0.5),(640,0.2),(720,-0.1),(760,-0.6),(807,3.6),(815,0.2),(880,0.0),(960,0.3),(1040,-0.5),(1060,0.1),(1140,0.3),(1220,0.0),(1300,-0.2),(1380,0.2),(1460,0.4),(1540,0.1),(1620,-0.3),(1700,0.1),(1780,0.3),(1860,0.0),(1940,0.2),(2030,-0.7),(2060,-0.5),(2090,0.1),(2170,0.3),(2250,0.0),(2330,0.2),(2410,-0.2),(2490,0.1),(2570,0.3),(2650,0.0),(2730,0.2),(2810,-0.2),(2890,0.1),(2970,0.3),(3040,-0.4),(3100,0.1),(3200,0.2)]
add_ph2013 = [(0,0.4),(40,0.0),(80,-0.5),(120,-0.3),(160,0.2),(200,0.6),(240,0.3),(280,-0.2),(320,-0.5),(360,-0.2),(400,0.3),(440,0.8),(480,0.4),(500,-0.2),(506,-2.5),(512,-0.5),(540,0.3),(580,0.7),(620,0.4),(660,-0.3),(700,-0.6),(740,-0.3),(780,0.2),(806,5.0),(814,0.3),(850,-0.4),(900,-1.0),(940,-0.6),(980,-0.2),(1020,0.3),(1060,-0.2),(1100,-0.6),(1140,-0.3),(1180,0.2),(1220,0.6),(1260,0.3),(1300,-0.2),(1340,-0.6),(1380,-0.9),(1400,-2.0),(1410,-0.5),(1440,0.2),(1480,0.6),(1520,0.3),(1560,-0.2),(1600,0.2),(1640,0.6),(1680,0.9),(1720,0.3),(1757,1.5),(1780,-0.3),(1820,-0.6),(1860,-0.2),(1900,0.3),(1940,0.7),(1980,0.3),(2020,-0.2),(2060,0.3),(2100,0.6),(2140,0.2),(2180,-0.3),(2220,-0.5),(2260,-0.1),(2300,0.4),(2340,0.8),(2380,0.4),(2420,0.1),(2460,0.5),(2500,0.9),(2540,0.4),(2580,-0.2),(2620,0.2),(2660,0.6),(2700,0.2),(2740,-0.3),(2780,0.2),(2820,0.5),(2860,0.1),(2900,-0.4),(2940,0.2),(2980,0.6),(3020,0.9),(3060,1.4),(3100,1.7),(3140,1.0),(3180,0.4),(3200,-0.1)]
add_ph2014 = [(0,0.3),(40,0.8),(80,0.4),(120,0.9),(160,0.5),(200,0.2),(240,0.8),(280,1.1),(320,0.6),(360,0.9),(400,0.5),(440,0.2),(480,0.6),(500,1.0),(515,0.4),(540,0.8),(580,0.3),(620,0.7),(660,1.0),(700,0.6),(740,1.3),(780,0.7),(806,6.0),(812,0.5),(850,0.9),(890,0.4),(930,0.7),(970,1.0),(1010,0.5),(1050,0.2),(1090,0.7),(1130,1.1),(1170,0.6),(1210,0.3),(1250,0.8),(1290,1.0),(1330,0.5),(1370,0.2),(1410,0.6),(1450,1.0),(1490,0.6),(1530,0.2),(1570,0.5),(1610,0.9),(1650,0.4),(1690,0.7),(1730,1.1),(1770,0.6),(1810,0.3),(1850,0.7),(1890,1.0),(1930,0.5),(1970,0.2),(2010,0.6),(2050,1.0),(2090,0.5),(2130,0.8),(2160,2.3),(2175,0.7),(2210,0.4),(2250,0.8),(2290,0.4),(2330,0.9),(2370,1.3),(2410,0.8),(2450,1.6),(2490,1.2),(2530,0.6),(2570,1.0),(2610,0.5),(2650,0.8),(2690,1.2),(2730,0.7),(2770,0.3),(2810,0.7),(2850,1.0),(2890,0.5),(2930,0.2),(2970,0.6),(3010,0.9),(3050,0.5),(3090,0.8),(3130,1.1),(3170,0.6),(3200,0.3)]
add_rl2013 = [(0,1.2),(30,0.6),(60,0.9),(90,1.5),(120,1.3),(150,0.5),(180,-0.2),(210,-0.9),(240,-1.3),(270,-2.0),(300,-2.3),(330,-1.6),(360,-1.0),(400,-1.3),(430,-2.0),(460,-2.2),(480,-1.4),(500,-0.6),(510,-1.0),(530,-0.9),(560,-1.2),(590,-0.6),(620,-1.4),(650,-1.8),(680,-2.1),(710,-2.3),(740,-2.6),(760,-1.2),(780,-0.4),(806,5.2),(815,-0.3),(840,-0.9),(870,-1.4),(900,-0.5),(930,0.4),(960,0.9),(990,0.4),(1020,-0.3),(1050,-0.6),(1080,-1.6),(1110,-0.8),(1140,0.2),(1155,-0.8),(1161,-3.9),(1167,-0.5),(1200,0.3),(1230,0.8),(1260,0.2),(1290,0.5),(1320,1.0),(1350,0.4),(1380,-0.3),(1410,-1.2),(1440,-0.6),(1470,-1.3),(1500,-0.4),(1530,0.3),(1560,0.7),(1590,1.1),(1620,0.4),(1650,-0.6),(1680,-1.2),(1710,-0.8),(1740,-1.6),(1770,-0.9),(1800,-0.3),(1830,0.3),(1860,-0.4),(1890,-1.1),(1920,-0.5),(1950,0.2),(1980,-0.6),(2010,-1.4),(2040,-1.9),(2070,-1.2),(2100,-0.6),(2130,-1.3),(2160,-0.7),(2190,0.1),(2220,0.8),(2250,1.3),(2280,1.7),(2310,1.2),(2325,0.6),(2330,-5.6),(2335,-5.4),(2340,0.2),(2370,0.9),(2400,1.3),(2430,0.8),(2460,1.5),(2490,0.9),(2520,0.3),(2550,-0.4),(2580,0.2),(2610,0.8),(2640,0.4),(2670,-0.3),(2700,-0.8),(2730,-0.4),(2760,0.3),(2790,0.9),(2820,0.4),(2850,-0.2),(2880,-0.6),(2910,-1.2),(2940,-0.5),(2970,-0.9),(3000,-0.3),(3030,0.5),(3050,1.4),(3060,3.7),(3066,1.0),(3090,-0.5),(3120,-0.9),(3150,-0.3),(3180,0.6),(3200,1.0)]
add_rl2014 = [(0,1.5),(20,1.2),(40,0.4),(70,-0.3),(100,0.2),(130,0.8),(160,0.3),(190,-0.2),(220,0.6),(250,1.2),(270,0.8),(300,1.4),(315,2.2),(330,1.6),(350,0.9),(370,0.2),(390,-0.6),(410,-1.3),(430,-1.9),(450,-1.2),(470,-0.5),(490,-0.9),(500,-1.8),(515,-0.6),(540,0.4),(570,0.9),(600,0.5),(630,0.2),(660,-0.4),(700,-1.5),(720,-2.3),(740,-2.8),(750,-1.6),(760,0.5),(780,1.8),(795,1.5),(805,5.6),(812,0.6),(840,-0.2),(870,-1.9),(900,-1.1),(930,-0.4),(960,0.2),(990,-0.6),(1010,-1.4),(1040,-0.5),(1070,0.3),(1100,0.9),(1130,0.5),(1160,-0.2),(1190,-0.6),(1220,0.1),(1250,-0.2),(1270,1.3),(1290,1.2),(1300,0.5),(1320,0.1),(1350,-0.6),(1380,-0.3),(1410,0.4),(1440,-0.2),(1470,0.4),(1500,-0.3),(1530,-0.9),(1560,-1.5),(1590,-2.6),(1612,-3.3),(1630,-2.4),(1645,-0.8),(1648,3.3),(1670,3.0),(1690,2.7),(1710,2.4),(1730,2.9),(1745,2.2),(1750,-0.8),(1760,-0.3),(1775,3.0),(1790,2.6),(1810,1.5),(1830,2.2),(1850,2.9),(1860,1.1),(1880,-0.5),(1900,-1.5),(1920,-1.0),(1950,-0.3),(1980,0.6),(2000,-1.2),(2015,-2.4),(2035,-2.6),(2055,-2.0),(2070,-0.4),(2090,0.8),(2110,1.7),(2130,2.4),(2150,1.6),(2170,0.4),(2190,-0.8),(2210,-1.6),(2240,-0.9),(2260,-1.7),(2280,-2.0),(2300,-1.4),(2320,-0.6),(2340,-1.2),(2360,0.3),(2380,0.8),(2400,0.3),(2420,-0.5),(2440,-0.9),(2460,1.2),(2470,4.6),(2480,4.9),(2490,4.2),(2500,-2.0),(2515,-3.6),(2530,-3.8),(2545,-2.4),(2560,0.2),(2580,1.4),(2600,2.0),(2614,3.2),(2625,2.4),(2640,0.8),(2660,-0.4),(2680,-1.0),(2700,-0.3),(2720,0.6),(2740,1.3),(2760,0.7),(2780,-0.1),(2800,0.9),(2815,2.3),(2830,2.4),(2845,1.6),(2860,-0.6),(2880,-1.5),(2900,-1.3),(2920,-2.4),(2940,-2.0),(2960,-2.6),(2980,-3.5),(2995,-3.4),(3010,-2.2),(3025,-0.6),(3035,1.8),(3050,1.2),(3060,2.6),(3075,3.4),(3090,2.2),(3110,2.8),(3131,4.2),(3145,3.6),(3160,1.6),(3170,-0.2),(3180,1.5),(3195,2.6)]
add_rm2013 = [(0,0.1),(90,-0.3),(180,0.2),(270,-0.4),(360,0.1),(450,0.3),(510,-1.2),(530,0.0),(620,0.2),(710,-0.2),(806,2.2),(815,0.0),(900,-0.3),(990,0.2),(1080,-0.2),(1170,0.3),(1260,0.0),(1350,-0.4),(1440,0.1),(1530,0.4),(1620,0.1),(1710,-0.2),(1800,0.3),(1890,0.0),(1980,-0.3),(2070,0.2),(2160,0.4),(2250,0.1),(2340,-0.2),(2430,0.2),(2520,0.0),(2610,-0.3),(2700,0.2),(2790,0.4),(2880,0.1),(2970,-0.2),(3060,0.2),(3150,-0.4),(3200,-0.2)]
add_rm2014 = [(0,-0.3),(60,0.2),(120,0.6),(180,0.3),(240,-0.2),(300,-0.5),(360,-0.1),(420,0.4),(480,0.2),(500,-1.0),(508,-3.0),(515,-0.2),(560,0.3),(620,0.7),(680,0.3),(740,-0.3),(806,4.0),(814,0.0),(870,-0.5),(930,-0.8),(990,-0.3),(1050,0.3),(1110,0.6),(1170,0.2),(1230,-0.3),(1290,0.1),(1350,0.5),(1390,1.4),(1410,0.2),(1470,-0.5),(1530,0.2),(1590,0.6),(1650,0.2),(1710,1.0),(1740,2.0),(1760,0.5),(1820,-0.4),(1880,0.2),(1940,0.6),(2000,0.2),(2060,-0.3),(2120,0.3),(2150,1.5),(2180,0.4),(2240,0.0),(2300,0.5),(2360,0.9),(2420,0.4),(2480,-0.2),(2540,0.3),(2600,0.7),(2660,0.3),(2720,-0.4),(2780,0.1),(2840,0.5),(2900,0.9),(2960,0.4),(3020,0.0),(3080,1.0),(3120,1.3),(3160,0.6),(3200,0.2)]
add_sm2013 = [(0,-0.2),(40,0.5),(80,1.0),(120,0.6),(160,0.9),(200,0.3),(240,0.6),(280,1.2),(320,0.8),(360,0.4),(400,0.9),(440,0.5),(470,0.2),(500,-1.0),(505,-3.5),(512,-5.0),(518,-0.4),(540,0.5),(580,0.9),(620,0.4),(660,0.8),(700,1.2),(740,0.6),(790,1.0),(800,7.0),(806,9.7),(812,1.0),(850,0.6),(890,1.0),(930,0.5),(970,0.8),(1010,1.2),(1050,0.7),(1090,0.3),(1130,0.8),(1170,1.1),(1210,0.5),(1250,0.2),(1290,0.7),(1330,1.0),(1370,0.5),(1410,0.8),(1450,1.3),(1490,0.7),(1530,0.3),(1570,0.7),(1610,-0.3),(1650,-0.6),(1690,0.2),(1730,0.9),(1770,1.2),(1810,0.6),(1850,0.3),(1890,0.8),(1930,1.1),(1970,0.6),(2010,0.2),(2050,0.7),(2090,1.1),(2130,0.5),(2157,2.3),(2170,0.6),(2210,0.9),(2250,0.4),(2290,0.8),(2330,1.2),(2370,1.5),(2410,1.0),(2450,1.8),(2490,1.3),(2530,0.7),(2570,1.1),(2610,0.6),(2650,0.9),(2690,0.4),(2730,0.8),(2770,1.2),(2810,0.6),(2850,0.3),(2890,-0.6),(2930,-0.9),(2970,-0.3),(3010,0.4),(3050,0.9),(3090,1.4),(3130,0.8),(3170,0.4),(3200,0.7)]
add_sm2014 = [(0,0.6),(30,1.0),(60,0.7),(90,1.3),(110,1.7),(130,1.2),(160,0.8),(190,0.3),(220,0.6),(250,0.2),(280,-0.3),(310,0.2),(340,0.6),(380,0.3),(420,0.7),(460,0.4),(490,0.8),(505,0.3),(512,-2.0),(518,-0.2),(540,0.2),(570,0.6),(600,1.1),(630,1.5),(660,1.2),(690,0.6),(720,0.9),(760,1.4),(790,1.0),(800,11.5),(808,11.8),(812,0.8),(850,0.4),(880,0.9),(910,0.5),(940,0.1),(970,0.5),(1000,0.2),(1030,-0.3),(1060,0.2),(1090,0.6),(1120,0.3),(1150,-0.2),(1180,0.3),(1210,0.7),(1240,0.3),(1270,-0.1),(1300,0.4),(1330,0.8),(1360,0.4),(1390,-0.2),(1410,-1.0),(1420,-3.4),(1428,-0.5),(1450,0.3),(1480,0.7),(1510,0.3),(1540,-0.2),(1570,0.3),(1600,0.8),(1630,0.4),(1660,0.1),(1690,0.5),(1720,0.9),(1750,0.4),(1780,0.1),(1810,0.5),(1840,0.8),(1870,0.4),(1900,0.1),(1930,0.6),(1960,0.9),(1990,0.4),(2020,0.2),(2050,0.7),(2080,1.1),(2110,0.6),(2140,0.3),(2170,0.7),(2200,1.0),(2230,0.5),(2260,0.2),(2290,0.6),(2320,0.9),(2350,0.4),(2380,0.8),(2410,1.2),(2440,0.9),(2470,1.5),(2500,1.0),(2530,0.5),(2560,1.2),(2590,1.8),(2620,1.2),(2650,0.6),(2680,0.2),(2710,0.6),(2740,1.0),(2770,0.5),(2800,0.1),(2830,0.5),(2860,0.9),(2890,0.4),(2920,0.0),(2950,0.4),(2980,0.8),(3010,0.4),(3040,1.1),(3070,1.9),(3090,1.2),(3120,0.6),(3150,0.2),(3180,0.6),(3200,1.0)]
add_srm2013 = [(0,0.2),(80,0.5),(160,0.1),(240,-0.3),(320,0.2),(400,0.6),(480,0.2),(510,-0.6),(540,0.3),(620,0.6),(700,0.1),(780,0.5),(806,2.0),(820,0.2),(900,0.5),(980,0.1),(1060,-0.4),(1140,0.2),(1220,0.6),(1300,0.2),(1380,-0.2),(1460,0.3),(1540,0.6),(1620,0.2),(1700,-0.3),(1780,0.2),(1860,0.5),(1940,0.1),(2020,-0.3),(2100,0.2),(2180,0.6),(2260,0.2),(2340,-0.2),(2420,0.3),(2500,0.7),(2580,0.3),(2660,-0.2),(2740,0.2),(2820,0.6),(2900,0.2),(2980,-0.3),(3060,0.3),(3140,0.7),(3200,0.3)]
add_srm2014 = [(0,0.1),(70,0.4),(140,0.1),(210,-0.3),(280,0.2),(350,0.5),(420,0.2),(490,-0.2),(541,1.3),(560,0.1),(630,-0.3),(700,0.2),(770,0.5),(808,1.5),(820,0.2),(890,-0.2),(960,0.2),(1030,0.5),(1100,0.1),(1170,-0.3),(1240,0.2),(1310,0.5),(1380,0.1),(1450,-0.2),(1520,0.3),(1590,0.6),(1660,0.2),(1730,-0.2),(1800,0.2),(1870,0.5),(1940,0.1),(2010,-0.2),(2080,0.2),(2153,2.0),(2170,0.3),(2240,0.0),(2310,0.4),(2380,0.1),(2450,-0.2),(2520,0.3),(2590,0.5),(2660,0.1),(2730,-0.3),(2800,0.2),(2870,0.5),(2940,0.1),(3010,-0.2),(3080,0.3),(3150,0.6),(3200,0.2)]

LOD_SERIES = [lod_1000gw2013, lod_1000gw2014, lod_drm2013, lod_drm2014, lod_dta2013, lod_dta2014,
              lod_flw2013, lod_flw2014, lod_ft2013, lod_ft2014, lod_gy2013, lod_gy2014, lod_hi2013,
              lod_hi2014, lod_nt2013, lod_nt2014, lod_ph2013, lod_ph2014, lod_rl2013, lod_rl2014,
              lod_rm2013, lod_rm2014, lod_sm2013, lod_sm2014, lod_srm2013, lod_srm2014]
ADD_SERIES = [add_1000gw2013, add_1000gw2014, add_drm2013, add_drm2014, add_dta2013, add_dta2014,
              add_flw2013, add_flw2014, add_ft2013, add_ft2014, add_gy2013, add_gy2014, add_hi2013,
              add_hi2014, add_nt2013, add_nt2014, add_ph2013, add_ph2014, add_rl2013, add_rl2014,
              add_rm2013, add_rm2014, add_sm2013, add_sm2014, add_srm2013, add_srm2014]

LOD_COLORS = ["#FF0000", "#228B22", "#0000FF", "#F2F200", "#006400", "#FF7F50",
              "#00FFFF", "#7FFFD4", "#2B2B80", "#F2EDC0", "#FFE0C0", "#A8444E", "#E9967A",
              "#3CDC3C", "#BCA45C", "#9ACD32", "#4A7A48", "#F4978A", "#A0522D", "#C9A66B",
              "#3CF08A", "#4E7048", "#0A7A0A", "#B0281E", "#5AE65A", "#00EE00"]
ADD_COLORS = ["#FF0000", "#228B22", "#0000FF", "#F2F200", "#006400", "#FF7F50",
              "#00FFFF", "#7FFFD4", "#2B2B80", "#F2EDC0", "#FFE0C0", "#6CCF3C", "#8E5E8E",
              "#44E096", "#DDEE77", "#9DB88E", "#62C44E", "#FA8072", "#C89B3C", "#6E5454",
              "#A4BC94", "#58BE58", "#F88282", "#A02810", "#5C3C4C", "#2EE67A"]

# ---------------- layout constants ----------------
W = 1560
LEFT = 55
X_END = 3206
SERIF = "Liberation Serif"
SANS = "Liberation Sans"
MARKER_COLOR = "#DC143C"
TICK_TEXT = "#2a3a60"


def style_common(p):
    p.background_fill_color = "white"
    p.border_fill_color = "white"
    p.outline_line_color = None
    p.yaxis.axis_line_color = "black"
    p.yaxis.axis_line_width = 1.5
    p.yaxis.major_tick_line_color = "black"
    p.yaxis.minor_tick_line_color = "black"
    p.yaxis.major_tick_out = 4
    p.yaxis.major_tick_in = 0
    p.yaxis.minor_tick_out = 2
    p.yaxis.minor_tick_in = 0
    p.yaxis.major_label_standoff = 6
    p.yaxis.major_label_text_font = SERIF
    p.yaxis.major_label_text_font_size = "12px"
    p.yaxis.major_label_text_color = TICK_TEXT
    p.yaxis.axis_label_text_font = SERIF
    p.yaxis.axis_label_text_font_style = "bold"
    p.yaxis.axis_label_text_font_size = "12px"
    p.yaxis.axis_label_text_color = "black"
    p.yaxis.axis_label_standoff = 6
    p.xgrid.grid_line_color = "black"
    p.xgrid.grid_line_dash = "1 5"
    p.xgrid.grid_line_width = 1.2
    p.ygrid.grid_line_color = "black"
    p.ygrid.grid_line_dash = "1 5"
    p.ygrid.grid_line_width = 1.2
    chrom = Grid(dimension=0, ticker=FixedTicker(ticks=CHROM_BOUNDS),
                 grid_line_color="#8a8a8a", grid_line_dash="1 2", grid_line_width=1)
    p.add_layout(chrom)


def draw_series(p, series_list, colors):
    for i in reversed(range(len(NAMES))):
        pts = series_list[i]
        p.line([a for a, b in pts], [b for a, b in pts], line_color=colors[i], line_width=1.2)


def legend_figure(colors, height, top_gap, with_threshold):
    lf = figure(width=W, height=height, x_range=Range1d(0, 1), y_range=Range1d(0, 1),
                output_backend="svg", toolbar_location=None,
                min_border_left=LEFT, min_border_right=0, min_border_top=top_gap,
                min_border_bottom=0)
    lf.axis.visible = False
    lf.grid.visible = False
    lf.outline_line_color = None
    lf.background_fill_color = "white"
    lf.border_fill_color = "white"
    nan = np.array([np.nan])
    items = []
    for n, c in zip(NAMES, colors):
        r = lf.line(x=nan, y=nan, line_color=c, line_width=2)
        items.append(LegendItem(label=n, renderers=[r]))
    mk = lf.scatter(x=nan, y=nan, marker="diamond", size=7, fill_color=MARKER_COLOR,
                    line_color=MARKER_COLOR)
    items.append(LegendItem(label="Markers' Position", renderers=[mk]))
    if with_threshold:
        th = lf.line(x=nan, y=nan, line_color="black", line_width=1.5, line_dash="3 2")
        items.append(LegendItem(label="Threshold:" + str(THRESHOLD), renderers=[th]))
    lg = Legend(items=items, location="top_left", orientation="horizontal", ncols=11,
                label_text_font=SANS, label_text_font_size="11px", label_text_color="#222222",
                label_width=92, label_height=16, glyph_width=24, glyph_height=16,
                label_standoff=10, spacing=0, padding=1, margin=0,
                border_line_color="black", border_line_width=1.5,
                background_fill_color="white", background_fill_alpha=1.0)
    lf.add_layout(lg, "center")
    return lf


# ---------------- top panel: LOD ----------------
leg1 = legend_figure(LOD_COLORS, 62, 7, True)

p1 = figure(width=W, height=393, x_range=Range1d(0, X_END), y_range=Range1d(-0.16, 30.37),
            output_backend="svg", toolbar_location=None,
            min_border_left=LEFT, min_border_right=0, min_border_top=4, min_border_bottom=60)
p1.xaxis.ticker = SingleIntervalTicker(interval=500, num_minor_ticks=0)
p1.yaxis.ticker = SingleIntervalTicker(interval=5, num_minor_ticks=5)
p1.yaxis.axis_label = "LOD Score"
style_common(p1)
p1.xaxis.axis_line_color = "black"
p1.xaxis.axis_line_width = 2
p1.xaxis.major_tick_line_color = "black"
p1.xaxis.major_tick_out = 5
p1.xaxis.major_tick_in = 0
p1.xaxis.minor_tick_line_color = None
p1.xaxis.major_label_standoff = 7
p1.xaxis.major_label_text_font = SERIF
p1.xaxis.major_label_text_font_size = "12px"
p1.xaxis.major_label_text_color = TICK_TEXT

draw_series(p1, LOD_SERIES, LOD_COLORS)
p1.scatter(MARKERS, [0] * len(MARKERS), marker="diamond", size=5,
           fill_color=MARKER_COLOR, line_color=MARKER_COLOR)
p1.line([0, X_END], [THRESHOLD, THRESHOLD], line_color="black", line_width=1.3,
        line_dash="3 2")

# ---------------- bottom panel: Additive effect ----------------
leg2 = legend_figure(ADD_COLORS, 58, 5, False)

p2 = figure(width=W, height=342, x_range=Range1d(0, X_END), y_range=Range1d(-8.48, 12.29),
            output_backend="svg", toolbar_location=None,
            min_border_left=LEFT, min_border_right=0, min_border_top=5, min_border_bottom=29)
p2.xaxis.ticker = SingleIntervalTicker(interval=500, num_minor_ticks=0)
p2.yaxis.ticker = SingleIntervalTicker(interval=5, num_minor_ticks=5)
p2.yaxis.axis_label = "Additive Effect"
style_common(p2)

draw_series(p2, ADD_SERIES, ADD_COLORS)
p2.scatter(MARKERS, [0] * len(MARKERS), marker="diamond", size=5,
           fill_color=MARKER_COLOR, line_color=MARKER_COLOR)

zero_axis = p2.xaxis[0]
zero_axis.fixed_location = 0
zero_axis.axis_line_color = "black"
zero_axis.axis_line_width = 2
zero_axis.major_tick_line_color = "black"
zero_axis.major_tick_out = 4
zero_axis.major_tick_in = 0
zero_axis.minor_tick_line_color = None
zero_axis.major_label_standoff = 11
zero_axis.major_label_text_font = SERIF
zero_axis.major_label_text_font_size = "12px"
zero_axis.major_label_text_color = TICK_TEXT

label_axis = LinearAxis(ticker=FixedTicker(ticks=[]), axis_label="Position in the whole genome",
                        axis_line_color=None, major_tick_line_color=None,
                        minor_tick_line_color=None, major_label_text_font_size="0px",
                        axis_label_text_font=SERIF, axis_label_text_font_style="bold",
                        axis_label_text_font_size="12px", axis_label_standoff=12)
p2.add_layout(label_axis, "below")

layout = column(leg1, p1, leg2, p2)
open("out.html", "w").write(file_html(layout, INLINE))
